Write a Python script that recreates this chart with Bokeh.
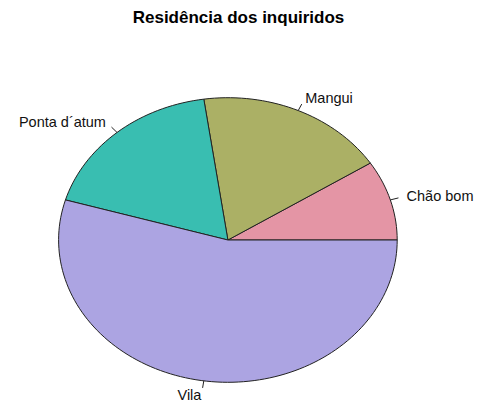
import numpy as np
from bokeh.plotting import figure
from bokeh.models import Range1d, ColumnDataSource
from bokeh.core.properties import value
from bokeh.embed import file_html
from bokeh.resources import INLINE

title_text = "Residência dos inquiridos"
labels = ["Chão bom", "Mangui", "Ponta d´atum", "Vila"]
counts = [5, 10, 10, 30]
colors = ["#E495A5", "#ABB065", "#39BEB1", "#ACA4E2"]

W, H = 476, 402
cx_px, cy_px = 227.4, 239.5   # pie centre in figure pixels (from top-left)
rx_px, ry_px = 169.3, 142.3   # ellipse radii in pixels

p = figure(width=W, height=H, output_backend="svg", toolbar_location=None,
           x_range=Range1d(-cx_px / rx_px, (W - cx_px) / rx_px),
           y_range=Range1d(-(H - cy_px) / ry_px, cy_px / ry_px),
           min_border=0, outline_line_color=None)
p.axis.visible = False
p.grid.visible = False
p.background_fill_color = "white"

total = float(sum(counts))
cum = np.concatenate([[0.0], np.cumsum(counts) / total])
xs, ys = [], []
for i in range(len(counts)):
    t0, t1 = 2 * np.pi * cum[i], 2 * np.pi * cum[i + 1]
    n = max(2, int(np.ceil(200 * (cum[i + 1] - cum[i]))))
    t = np.linspace(t0, t1, n)
    xs.append(np.concatenate([[0.0], np.cos(t), [0.0]]))
    ys.append(np.concatenate([[0.0], np.sin(t), [0.0]]))
p.patches(xs=xs, ys=ys, fill_color=colors, line_color="#222222", line_width=1)

mid = 2 * np.pi * (cum[:-1] + cum[1:]) / 2
p.segment(x0=np.cos(mid), y0=np.sin(mid), x1=np.cos(mid) * 1.05, y1=np.sin(mid) * 1.05,
          line_color="#222222", line_width=1)

lx = np.cos(mid) * 1.1
ly = np.sin(mid) * 1.1
align = ["left" if c > 0 else "right" for c in np.cos(mid)]
src = ColumnDataSource(dict(x=lx, y=ly, text=labels, align=align))
p.text(x="x", y="y", text="text", source=src, text_align="align",
       text_baseline="middle", text_font=value("Liberation Sans"),
       text_font_size="14.5px", text_color="#111111")

p.text(x=[(W / 2 - cx_px) / rx_px], y=[(cy_px - 17) / ry_px], text=[title_text],
       text_align="center", text_baseline="middle",
       text_font=value("Liberation Sans"), text_font_style="bold",
       text_font_size="17px", text_color="#000000")

open("out.html", "w").write(file_html(p, INLINE))
